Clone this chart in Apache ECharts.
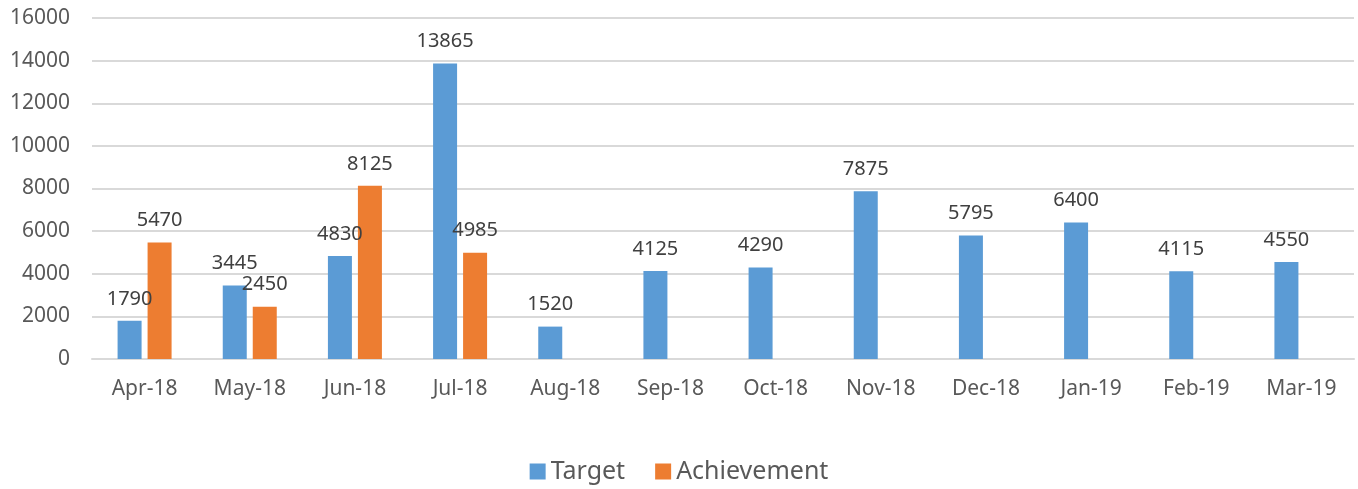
<!DOCTYPE html>
<html>
<head>
<meta charset="utf-8">
<script src="https://cdn.jsdelivr.net/npm/echarts@6/dist/echarts.min.js"></script>
<style>
  html, body { margin: 0; padding: 0; background: #fff; }
  #chart { width: 1358px; height: 489px; }
</style>
</head>
<body>
<div id="chart"></div>
<script>
const months = ['Apr-18', 'May-18', 'Jun-18', 'Jul-18', 'Aug-18', 'Sep-18', 'Oct-18', 'Nov-18', 'Dec-18', 'Jan-19', 'Feb-19', 'Mar-19']
const target = [1790, 3445, 4830, 13865, 1520, 4125, 4290, 7875, 5795, 6400, 4115, 4550]
const achievement = [5470, 2450, 8125, 4985, null, null, null, null, null, null, null, null]

const fontFamily = '"Noto Sans", "Open Sans", sans-serif'

const chart = echarts.init(document.getElementById('chart'))

const valueLabel = {
  show: true,
  position: 'top',
  distance: 12,
  color: '#404040',
  fontSize: 20,
  fontFamily: fontFamily
}

chart.setOption({
  animation: false,
  grid: {
    left: 92,
    right: 4,
    top: 18,
    bottom: 130
  },
  legend: {
    bottom: 0,
    left: 'center',
    itemWidth: 16,
    itemHeight: 16,
    itemGap: 30,
    icon: 'rect',
    textStyle: { color: '#595959', fontSize: 25, fontFamily: fontFamily },
    data: ['Target', 'Achievement']
  },
  xAxis: {
    type: 'category',
    data: months,
    axisTick: { show: false },
    axisLine: { lineStyle: { color: '#d9d9d9', width: 2 } },
    axisLabel: { color: '#595959', fontSize: 21, fontFamily: fontFamily, margin: 20 }
  },
  yAxis: {
    type: 'value',
    min: 0,
    max: 16000,
    interval: 2000,
    axisLine: { show: false },
    axisTick: { show: false },
    splitLine: { lineStyle: { color: '#d9d9d9', width: 2 } },
    axisLabel: { color: '#595959', fontSize: 21, fontFamily: fontFamily, margin: 22, formatter: v => String(v) }
  },
  series: [
    {
      name: 'Target',
      type: 'bar',
      data: target,
      barWidth: 24,
      barGap: '25%',
      itemStyle: { color: '#5b9bd5' },
      label: valueLabel
    },
    {
      name: 'Achievement',
      type: 'bar',
      data: achievement,
      barWidth: 24,
      itemStyle: { color: '#ed7d31' },
      label: valueLabel
    }
  ]
})
</script>
</body>
</html>
